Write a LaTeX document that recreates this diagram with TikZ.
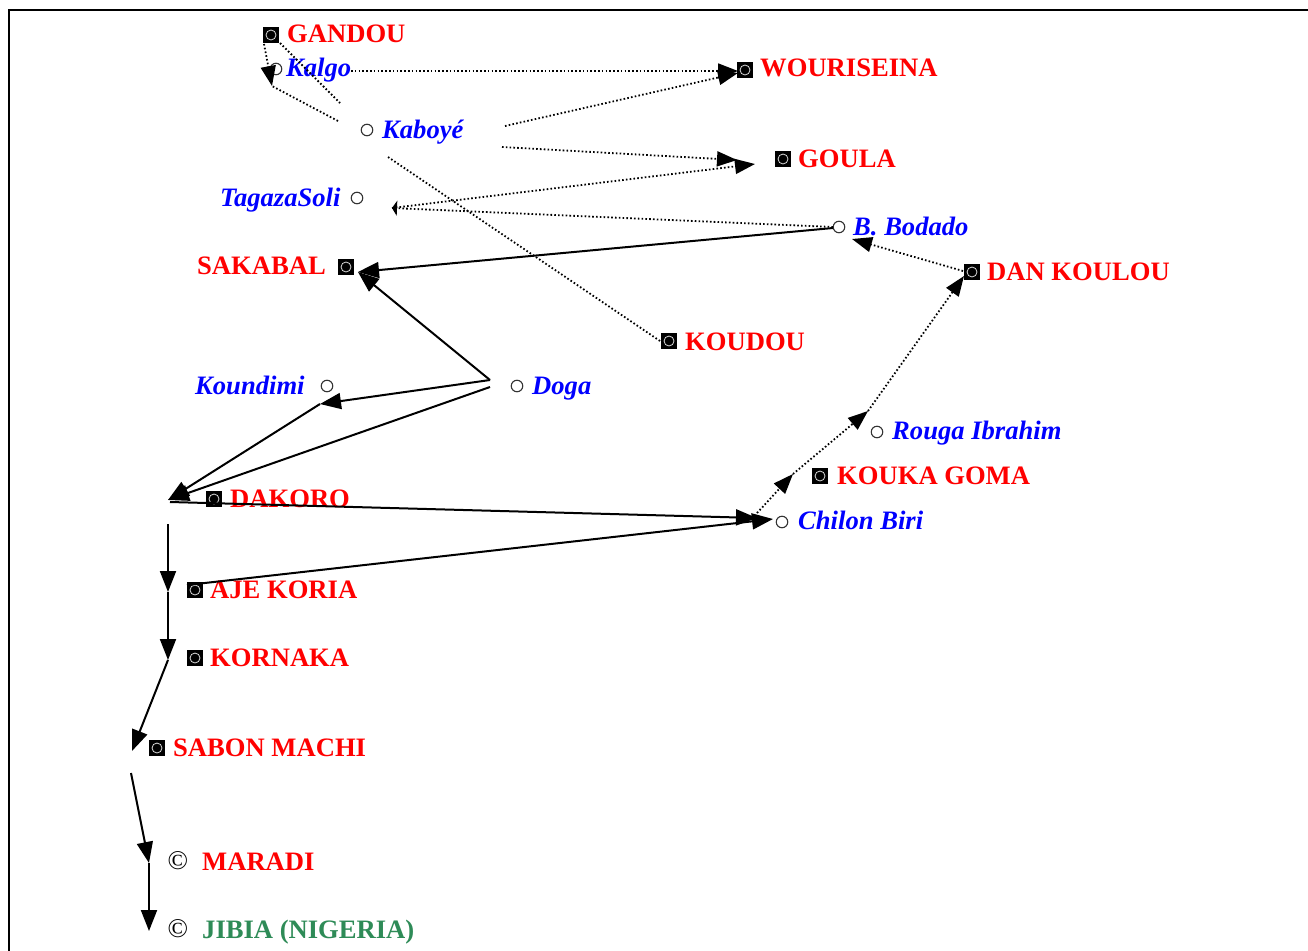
\documentclass[tikz,border=0pt]{standalone}
\usepackage{fontspec}
\setmainfont{Liberation Serif}
\usetikzlibrary{arrows.meta}
\definecolor{rd}{RGB}{255,0,0}
\definecolor{bl}{RGB}{0,0,255}
\definecolor{gr}{RGB}{46,139,87}
\begin{document}
\begin{tikzpicture}[x=1pt,y=-1pt,
  rlab/.style={anchor=base west, inner sep=0, text=rd, font=\fontsize{26.6}{30}\selectfont\bfseries},
  blab/.style={anchor=base west, inner sep=0, text=bl, font=\fontsize{26.6}{30}\selectfont\bfseries\itshape},
  glab/.style={anchor=base west, inner sep=0, text=gr, font=\fontsize{26.6}{30}\selectfont\bfseries},
  sqsym/.style={rectangle, fill=black, minimum size=15.5pt, inner sep=0,
    path picture={\draw[white!85!black, line width=0.8pt] (path picture bounding box.center) circle (5pt);}},
  csym/.style={circle, draw=black!80, line width=1.1pt, minimum size=11.5pt, inner sep=0},
  copysym/.style={inner sep=0, font=\fontsize{27}{30}\selectfont},
  solidc/.style={line width=2pt, -{Triangle[length=21pt,width=16pt]}},
  dotc/.style={line width=1.8pt, dash pattern=on 1.6pt off 2.2pt, -{Triangle[length=20pt,width=15pt]}},
  dotn/.style={line width=1.8pt, dash pattern=on 1.6pt off 2.2pt},
]
\useasboundingbox (0,0) rectangle (1308,950);
\fill[white] (0,0) rectangle (1308,950);
\draw[line width=2pt] (9,951) -- (9,10) -- (1309,10);

% ---- symbols ----
\node[sqsym] (sGandou) at (271,35) {};
\node[csym]  (cKalgo) at (276,69) {};
\node[csym]  (cKaboye) at (367,130) {};
\node[sqsym] (sWour) at (745,70) {};
\node[sqsym] (sGoula) at (783,159) {};
\node[csym]  (cTagaza) at (357,198) {};
\node[csym]  (cBodado) at (839,227) {};
\node[sqsym] (sSakabal) at (346,267) {};
\node[sqsym] (sDanK) at (972,272) {};
\node[sqsym] (sKoudou) at (669,341) {};
\node[csym]  (cKoundimi) at (327,386) {};
\node[csym]  (cDoga) at (517,386) {};
\node[csym]  (cRouga) at (877,432) {};
\node[sqsym] (sKouka) at (820,476) {};
\node[sqsym] (sDakoro) at (214,499) {};
\node[csym]  (cChilon) at (782,522) {};
\node[sqsym] (sAje) at (195,590) {};
\node[sqsym] (sKornaka) at (195,658) {};
\node[sqsym] (sSabon) at (157,748) {};
\node[copysym] (pMaradi) at (178,861) {©};
\node[copysym] (pJibia) at (178,929) {©};

% ---- labels ----
\node[rlab] (lGandou) at (287,43) {GANDOU};
\node[blab] (lKalgo) at (286,77) {Kalgo};
\node[blab] (lKaboye) at (382,138) {Kaboyé};
\node[rlab] (lWour) at (760,77) {WOURISEINA};
\node[rlab] (lGoula) at (798,167) {GOULA};
\node[blab] (lTagaza) at (220,206) {TagazaSoli};
\node[blab] (lBodado) at (853,235) {B. Bodado};
\node[rlab] (lSakabal) at (197,274) {SAKABAL};
\node[rlab] (lDanK) at (987,280) {DAN KOULOU};
\node[rlab] (lKoudou) at (685,350) {KOUDOU};
\node[blab] (lKoundimi) at (195,394) {Koundimi};
\node[blab] (lDoga) at (532,394) {Doga};
\node[blab] (lRouga) at (892,439) {Rouga Ibrahim};
\node[rlab] (lKouka) at (837,484) {KOUKA GOMA};
\node[rlab] (lDakoro) at (230,507) {DAKORO};
\node[blab] (lChilon) at (798,529) {Chilon Biri};
\node[rlab] (lAje) at (210,598) {AJE KORIA};
\node[rlab] (lKornaka) at (210,666) {KORNAKA};
\node[rlab] (lSabon) at (173,756) {SABON MACHI};
\node[rlab] (lMaradi) at (202,870) {MARADI};
\node[glab] (lJibia) at (202,938) {JIBIA (NIGERIA)};

% ---- connector end points ----
\coordinate (gA) at (264,44);
\coordinate (gB) at (280,43);
\coordinate (kalgoIn) at (272,86);
\coordinate (kbA) at (340,103);
\coordinate (kbB) at (338,121);
\coordinate (kalgoOut) at (351,71);
\coordinate (wourIn) at (738,71);
\coordinate (kbC) at (505,126);
\coordinate (wourIn2) at (738,73);
\coordinate (kbD) at (502,147);
\coordinate (goulaIn) at (737,160);
\coordinate (goulaIn2) at (755,164);
\coordinate (tagMark) at (392,208);
\coordinate (bodOut) at (833,227);
\coordinate (kbE) at (388,157);
\coordinate (koudouIn) at (660,341);
\coordinate (danOut) at (963,271);
\coordinate (bodIn) at (852,239);
\coordinate (chUp) at (757,513);
\coordinate (koukaIn) at (793,474);
\coordinate (rougaIn) at (868,411);
\coordinate (danIn) at (964,276);
\coordinate (bodOut2) at (833,228);
\coordinate (sakIn) at (358,272);
\coordinate (dogaA) at (490,380);
\coordinate (dogaB) at (490,387);
\coordinate (koundIn) at (320,404);
\coordinate (dakIn) at (168,500);
\coordinate (dakOut) at (170,502);
\coordinate (chilonIn) at (757,518);
\coordinate (ajeOut) at (187,585);
\coordinate (chilonIn2) at (773,519);
\coordinate (dakDown) at (168,524);
\coordinate (ajeIn) at (168,592);
\coordinate (kornIn) at (168,660);
\coordinate (sabIn) at (132,751);
\coordinate (sabOut) at (131,773);
\coordinate (marIn) at (149,863);
\coordinate (jibIn) at (149,931);

% ---- dotted connectors ----
\draw[dotc] (gA) -- (kalgoIn);
\draw[dotn] (gB) -- (kbA);
\draw[dotn] (kbB) -- (kalgoIn);
\draw[dotc] (kalgoOut) -- (wourIn);
\draw[dotc] (kbC) -- (wourIn2);
\draw[dotc] (kbD) -- (goulaIn);
\draw[dotc] (tagMark) -- (goulaIn2);
\draw[line width=1.8pt, dash pattern=on 1.6pt off 2.2pt, -{Triangle[length=5pt,width=15pt]}] (bodOut) -- (tagMark);
\draw[dotn] (kbE) -- (koudouIn);
\draw[dotc] (danOut) -- (bodIn);
\draw[dotc] (chUp) -- (koukaIn);
\draw[dotc] (koukaIn) -- (rougaIn);
\draw[dotc] (rougaIn) -- (danIn);

% ---- solid connectors ----
\draw[solidc] (bodOut2) -- (sakIn);
\draw[solidc] (dogaA) -- (sakIn);
\draw[solidc] (dogaA) -- (koundIn);
\draw[solidc] (koundIn) -- (dakIn);
\draw[solidc] (dogaB) -- (dakIn);
\draw[solidc] (dakOut) -- (chilonIn);
\draw[solidc] (ajeOut) -- (chilonIn2);
\draw[solidc] (dakDown) -- (ajeIn);
\draw[solidc] (ajeIn) -- (kornIn);
\draw[solidc] (kornIn) -- (sabIn);
\draw[solidc] (sabOut) -- (marIn);
\draw[solidc] (marIn) -- (jibIn);
\end{tikzpicture}
\end{document}
